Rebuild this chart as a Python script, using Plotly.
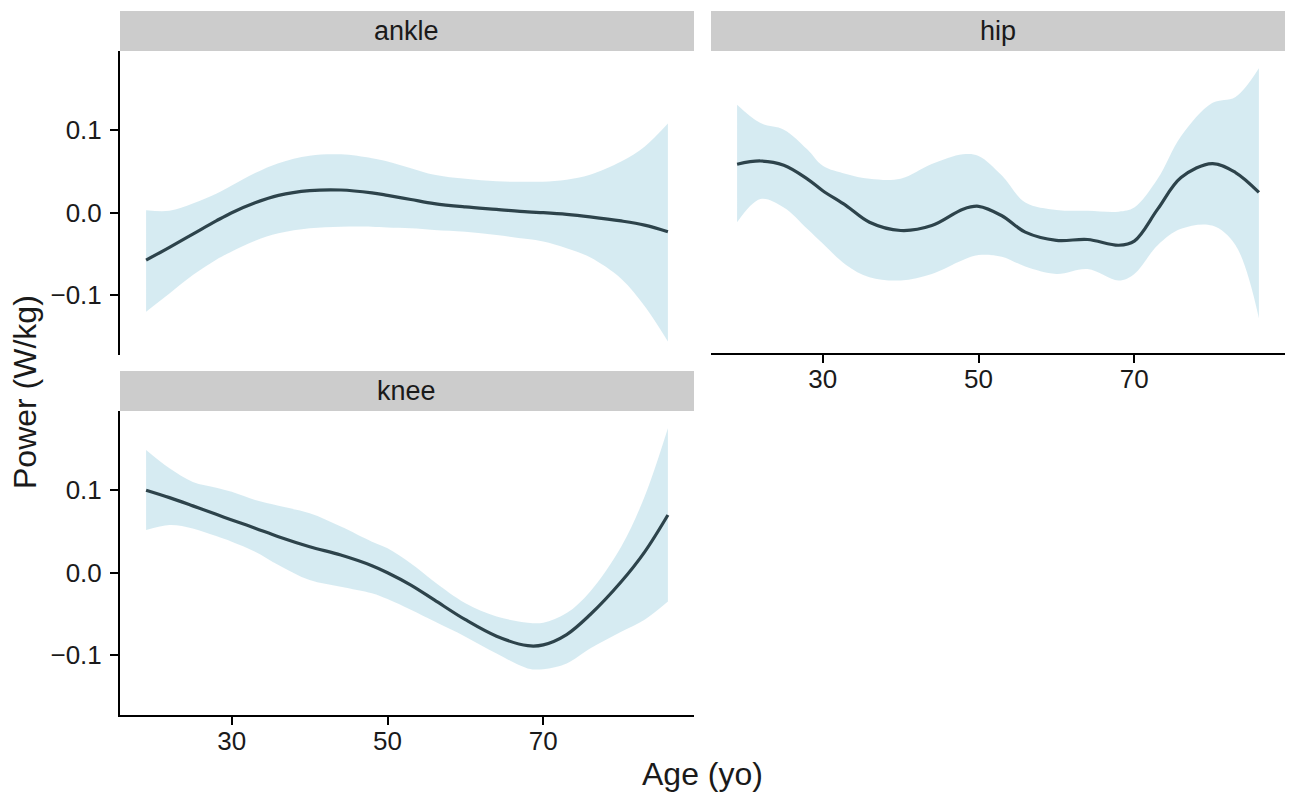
import plotly.graph_objects as go

# ---------------- data ----------------
age = [19, 22, 25, 28, 30, 33, 36, 40, 44, 48, 50, 53, 56, 60, 64, 68, 70, 73, 76, 80, 83, 86]

ankle_fit = [-0.0574, -0.042, -0.026, -0.010, 0.000, 0.012, 0.021, 0.0267, 0.0275, 0.024, 0.021,
             0.016, 0.011, 0.007, 0.004, 0.001, 0.000, -0.002, -0.005, -0.010, -0.015, -0.023]
ankle_upper = [0.003, 0.0024, 0.011, 0.023, 0.033, 0.048, 0.060, 0.069, 0.0707, 0.066, 0.062,
               0.054, 0.046, 0.041, 0.038, 0.0376, 0.0376, 0.040, 0.046, 0.062, 0.080, 0.108]
ankle_lower = [-0.120, -0.098, -0.0756, -0.057, -0.047, -0.034, -0.025, -0.019, -0.017, -0.017, -0.018,
               -0.019, -0.021, -0.023, -0.027, -0.032, -0.035, -0.043, -0.054, -0.080, -0.113, -0.156]

hip_fit = [0.0578, 0.0618, 0.0566, 0.040, 0.0255, 0.0073, -0.013, -0.023, -0.017, 0.003, 0.0065,
           -0.005, -0.025, -0.035, -0.034, -0.041, -0.036, 0.003, 0.0416, 0.0586, 0.0477, 0.0234]
hip_upper = [0.1305, 0.108, 0.100, 0.076, 0.056, 0.046, 0.040, 0.040, 0.058, 0.070, 0.068,
             0.044, 0.011, 0.002, 0.001, 0.000, 0.005, 0.040, 0.092, 0.1325, 0.140, 0.175]
hip_lower = [-0.013, 0.0154, 0.005, -0.021, -0.039, -0.065, -0.080, -0.084, -0.076, -0.059, -0.053,
             -0.055, -0.067, -0.076, -0.070, -0.084, -0.076, -0.041, -0.021, -0.017, -0.041, -0.130]

knee_fit = [0.100, 0.091, 0.081, 0.0707, 0.064, 0.054, 0.0436, 0.0315, 0.0214, 0.0085, 0.000,
            -0.015, -0.033, -0.057, -0.0770, -0.0885, -0.0875, -0.0750, -0.051, -0.011, 0.025, 0.070]
knee_upper = [0.1487, 0.1265, 0.110, 0.103, 0.098, 0.088, 0.081, 0.072, 0.056, 0.0376, 0.0295,
              0.011, -0.011, -0.037, -0.053, -0.0606, -0.0606, -0.049, -0.023, 0.0315, 0.092, 0.175]
knee_lower = [0.0517, 0.0578, 0.0537, 0.0444, 0.0376, 0.0255, 0.0093, -0.009, -0.017, -0.025, -0.032,
              -0.045, -0.059, -0.0776, -0.098, -0.116, -0.117, -0.110, -0.092, -0.0715, -0.057, -0.035]

panels = ["ankle", "hip", "knee"]
x_ticks = [30, 50, 70]
y_ticks = [-0.1, 0.0, 0.1]
y_ticklabels = ["\u22120.1", "0.0", "0.1"]
x_title = "Age (yo)"
y_title = "Power (W/kg)"

# ---------------- styling / geometry ----------------
W, H = 1292, 793
FONT = "Liberation Sans, Arial, Helvetica, sans-serif"
LINE_COL = "#2d434b"
RIBBON = "rgba(173,216,230,0.5)"
STRIP = "#cccccc"
X_RANGE = [15.65, 89.35]
Y_RANGE = [-0.1725, 0.196]

def px_x(a, b):
    return [a / W, b / W]

def px_y(top, bottom):
    return [1 - bottom / H, 1 - top / H]

geo = {
    "ankle": dict(x=(120, 694), y=(51, 355), strip=(11, 51)),
    "hip": dict(x=(711, 1285), y=(51, 353), strip=(11, 51)),
    "knee": dict(x=(120, 694), y=(411, 715), strip=(371, 411)),
}

series = {
    "ankle": (ankle_fit, ankle_upper, ankle_lower),
    "hip": (hip_fit, hip_upper, hip_lower),
    "knee": (knee_fit, knee_upper, knee_lower),
}

fig = go.Figure()

for i, name in enumerate(panels, start=1):
    fit, up, lo = series[name]
    xa = "x" if i == 1 else f"x{i}"
    ya = "y" if i == 1 else f"y{i}"
    fig.add_trace(go.Scatter(x=age, y=up, mode="lines", line=dict(width=0, shape="spline", smoothing=1.0),
                             xaxis=xa, yaxis=ya, showlegend=False, hoverinfo="skip"))
    fig.add_trace(go.Scatter(x=age, y=lo, mode="lines", line=dict(width=0, shape="spline", smoothing=1.0),
                             fill="tonexty", fillcolor=RIBBON,
                             xaxis=xa, yaxis=ya, showlegend=False, hoverinfo="skip"))
    fig.add_trace(go.Scatter(x=age, y=fit, mode="lines",
                             line=dict(color=LINE_COL, width=3.2, shape="spline", smoothing=1.0),
                             xaxis=xa, yaxis=ya, showlegend=False))

axis_font = dict(family=FONT, size=26, color="#1a1a1a")
layout = dict(
    width=W, height=H,
    margin=dict(l=0, r=0, t=0, b=0),
    paper_bgcolor="white", plot_bgcolor="white",
    font=dict(family=FONT),
    showlegend=False,
)

for i, name in enumerate(panels, start=1):
    g = geo[name]
    xk = "xaxis" if i == 1 else f"xaxis{i}"
    yk = "yaxis" if i == 1 else f"yaxis{i}"
    ya = "y" if i == 1 else f"y{i}"
    xa = "x" if i == 1 else f"x{i}"
    show_x = name in ("hip", "knee")
    show_y = name in ("ankle", "knee")
    layout[xk] = dict(
        domain=px_x(*g["x"]), anchor=ya, range=X_RANGE, showgrid=False, zeroline=False,
        showline=show_x, linecolor="black", linewidth=2,
        ticks="outside" if show_x else "", ticklen=8, tickwidth=2, tickcolor="black",
        tickvals=x_ticks, showticklabels=show_x, tickfont=axis_font,
        ticklabelstandoff=-6,
    )
    layout[yk] = dict(
        domain=px_y(*g["y"]), anchor=xa, range=Y_RANGE, showgrid=False, zeroline=False,
        showline=show_y, linecolor="black", linewidth=2,
        ticks="outside" if show_y else "", ticklen=8, tickwidth=2, tickcolor="black",
        tickvals=y_ticks, ticktext=y_ticklabels, showticklabels=show_y, tickfont=axis_font,
        ticklabelstandoff=3,
    )

fig.update_layout(**layout)

shapes = []
annotations = []
for name in panels:
    g = geo[name]
    x0, x1 = g["x"]
    s0, s1 = g["strip"]
    shapes.append(dict(type="rect", xref="paper", yref="paper",
                       x0=x0 / W, x1=x1 / W, y0=1 - s1 / H, y1=1 - s0 / H,
                       fillcolor=STRIP, line=dict(width=0), layer="above"))
    annotations.append(dict(text=name, xref="paper", yref="paper",
                            x=(x0 + x1) / 2 / W, y=1 - (s0 + s1) / 2 / H,
                            xanchor="center", yanchor="middle", showarrow=False,
                            font=dict(family=FONT, size=27, color="#1a1a1a")))

annotations.append(dict(text=x_title, xref="paper", yref="paper",
                        x=703 / W, y=1 - 774 / H, xanchor="center", yanchor="middle",
                        showarrow=False, font=dict(family=FONT, size=32, color="#1a1a1a")))
annotations.append(dict(text=y_title, xref="paper", yref="paper", textangle=-90,
                        x=25 / W, y=1 - 392 / H, xanchor="center", yanchor="middle",
                        showarrow=False, font=dict(family=FONT, size=32, color="#1a1a1a")))

fig.update_layout(shapes=shapes, annotations=annotations)

fig.write_html("out.html", config={"displayModeBar": False},
               post_script="document.body.style.margin='0';document.body.style.padding='0';")
